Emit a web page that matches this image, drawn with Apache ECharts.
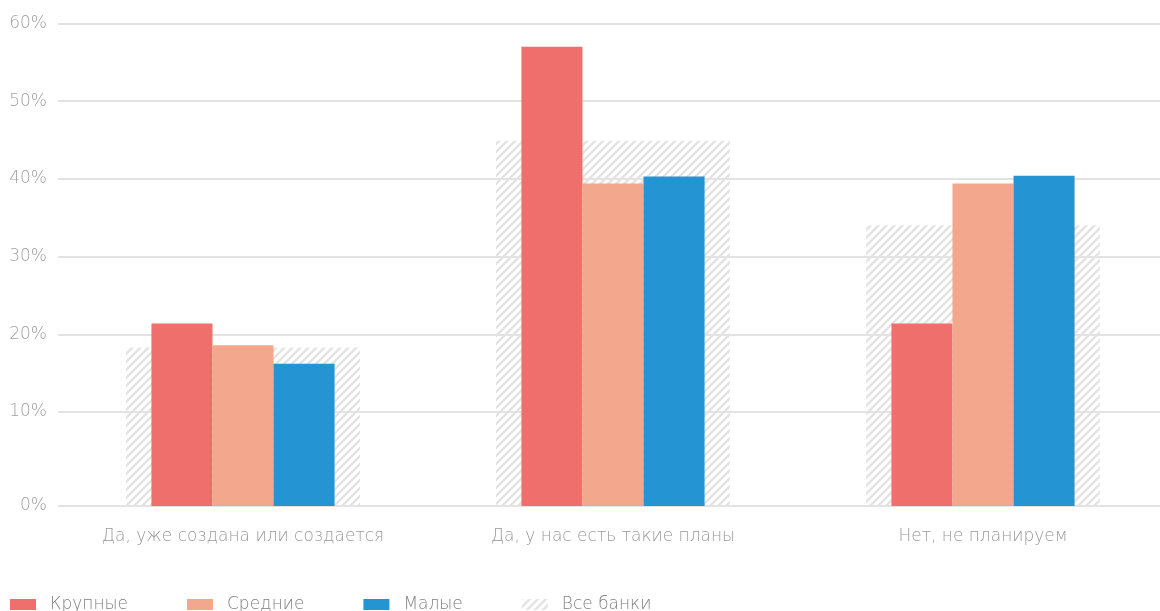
<!DOCTYPE html>
<html>
<head>
<meta charset="utf-8">
<script src="https://cdn.jsdelivr.net/npm/echarts@6/dist/echarts.min.js"></script>
<style>
  html, body { margin: 0; padding: 0; background: #fff; }
  #chart { width: 1160px; height: 611px; }
</style>
</head>
<body>
<div id="chart"></div>
<script>
// categories and values (percent)
const categories = ['Да, уже создана или создается', 'Да, у нас есть такие планы', 'Нет, не планируем'];
const krupnye = [21.4, 57.0, 21.4];
const srednie = [18.6, 39.4, 39.4];
const malye = [16.2, 40.3, 40.4];
const vseBanki = [18.3, 44.9, 34.0];
const yTicks = [10, 20, 30, 40, 50, 60];

const AXIS_MIN = -2.1;
const FONT = '"DejaVu Sans", "Noto Sans", sans-serif';

// hatch pattern for "Все банки"
function makeHatch() {
  const c = document.createElement('canvas');
  const s = 8;
  c.width = s; c.height = s;
  const ctx = c.getContext('2d');
  ctx.strokeStyle = '#e3e3e3';
  ctx.lineWidth = 2.4;
  ctx.beginPath();
  ctx.moveTo(-1, s + 1); ctx.lineTo(s + 1, -1);
  ctx.moveTo(-1, 1); ctx.lineTo(1, -1);
  ctx.moveTo(s - 1, s + 1); ctx.lineTo(s + 1, s - 1);
  ctx.stroke();
  return c;
}
const hatch = { image: makeHatch(), repeat: 'repeat' };

// bar drawn from axis bottom up to its value
function barRenderer(widthRatio, slot) {
  return function (params, api) {
    const idx = api.value(0);
    const top = api.coord([idx, api.value(1)]);
    const bottom = api.coord([idx, AXIS_MIN]);
    const band = api.size([1, 0])[0];
    const w = band * widthRatio;
    const x = top[0] + (slot - 1) * w - w / 2;
    return {
      type: 'rect',
      shape: { x: x, y: top[1], width: w, height: bottom[1] - top[1] },
      style: { fill: api.visual('color') }
    };
  };
}

function toPairs(arr) {
  return arr.map((v, i) => [i, v]);
}

const chart = echarts.init(document.getElementById('chart'));
chart.setOption({
  animation: false,
  textStyle: { fontFamily: FONT },
  grid: { left: 58, width: 1110, top: 23.5, bottom: 105, outerBoundsMode: 'none', containLabel: false },
  legend: {
    left: 10,
    top: 596,
    padding: 0,
    icon: 'rect',
    itemWidth: 26,
    itemHeight: 11,
    itemGap: 59,
    textStyle: { fontSize: 17, color: '#808080', fontFamily: FONT, fontWeight: 200, padding: [0, 0, 0, 9] },
    data: ['Крупные', 'Средние', 'Малые', 'Все банки']
  },
  xAxis: {
    type: 'category',
    data: categories,
    axisLine: { show: false },
    axisTick: { show: false },
    axisLabel: { color: '#999', fontSize: 17, fontWeight: 200, margin: 22, fontFamily: FONT }
  },
  yAxis: {
    type: 'value',
    min: AXIS_MIN,
    max: 60,
    axisLine: { show: false },
    axisTick: { show: false, customValues: [AXIS_MIN].concat(yTicks) },
    axisLabel: {
      customValues: [AXIS_MIN].concat(yTicks),
      formatter: v => (v < 0 ? 0 : Math.round(v)) + '%',
      color: '#a0a0a0',
      fontSize: 17,
      fontWeight: 200,
      margin: 11,
      fontFamily: FONT
    },
    splitLine: { lineStyle: { color: '#e3e3e3', width: 2 } }
  },
  series: [
    {
      name: 'Все банки', type: 'custom', z: 1,
      itemStyle: { color: hatch },
      renderItem: barRenderer(0.632, 1),
      encode: { x: 0, y: 1 },
      data: toPairs(vseBanki)
    },
    {
      name: 'Крупные', type: 'custom', z: 2,
      itemStyle: { color: '#ee6f6b' },
      renderItem: barRenderer(0.165, 0),
      encode: { x: 0, y: 1 },
      data: toPairs(krupnye)
    },
    {
      name: 'Средние', type: 'custom', z: 2,
      itemStyle: { color: '#f3a88e' },
      renderItem: barRenderer(0.165, 1),
      encode: { x: 0, y: 1 },
      data: toPairs(srednie)
    },
    {
      name: 'Малые', type: 'custom', z: 2,
      itemStyle: { color: '#2494d3' },
      renderItem: barRenderer(0.165, 2),
      encode: { x: 0, y: 1 },
      data: toPairs(malye)
    }
  ]
});
</script>
</body>
</html>
